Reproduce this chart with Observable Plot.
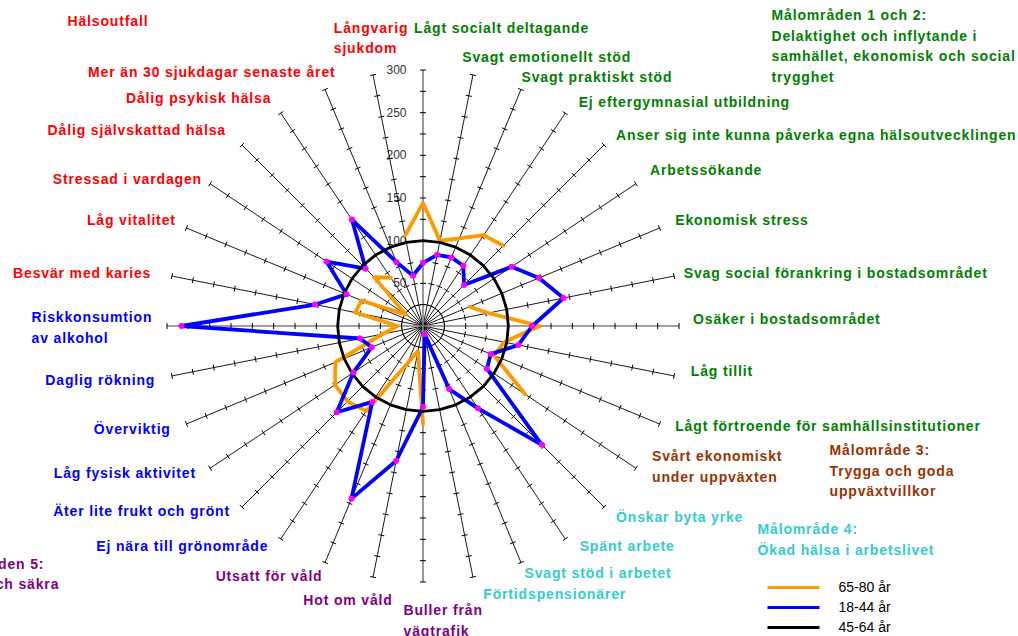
<!DOCTYPE html>
<html>
<head>
<meta charset="utf-8">
<script src="https://cdn.jsdelivr.net/npm/d3@7"></script>
<script src="https://cdn.jsdelivr.net/npm/@observablehq/plot@0.6"></script>
<style>
  html, body { margin: 0; padding: 0; background: #fff; }
  #chart { width: 1018px; height: 636px; overflow: hidden; }
</style>
</head>
<body>
<div id="chart"></div>
<script>
// ---------- DATA ----------
const categories = [
  "Lågt socialt deltagande", "Svagt emotionellt stöd", "Svagt praktiskt stöd",
  "Ej eftergymnasial utbildning", "Anser sig inte kunna påverka egna hälsoutvecklingen",
  "Arbetssökande", "Ekonomisk stress", "Svag social förankring i bostadsområdet",
  "Osäker i bostadsområdet", "Låg tillit", "Lågt förtroende för samhällsinstitutioner",
  "Svårt ekonomiskt\nunder uppväxten", "Önskar byta yrke", "Spänt arbete",
  "Svagt stöd i arbetet", "Förtidspensionärer", "Buller från\nvägtrafik",
  "Hot om våld", "Utsatt för våld", "Ej nära till grönområde",
  "Äter lite frukt och grönt", "Låg fysisk aktivitet", "Överviktig",
  "Daglig rökning", "Riskkonsumtion\nav alkohol", "Besvär med karies",
  "Låg vitalitet", "Stressad i vardagen", "Dålig självskattad hälsa",
  "Dålig psykisk hälsa", "Mer än 30 sjukdagar senaste året", "Långvarig\nsjukdom"
];
const categoryGroup = [
  "mo12","mo12","mo12","mo12","mo12","mo12","mo12","mo12","mo12","mo12","mo12",
  "mo3",
  "mo4","mo4","mo4","mo4",
  "mo5","mo5","mo5",
  "levnad","levnad","levnad","levnad","levnad","levnad",
  "halsa","halsa","halsa","halsa","halsa","halsa","halsa"
];
const seriesNames = ["65-80 år", "18-44 år", "45-64 år"];
const age6580 = [144,102,111,128,133,null,59,78,137,97,90,144,null,null,null,null,
                 115,30,47,120,125,124,111,48,30,81,78,24,81,68,null,108];
const age1844 = [74,85,87,85,68,125,147,168,128,114,86,90,197,116,80,10,
                 95,161,219,107,143,98,65,75,283,129,97,136,95,150,81,60];
const age4564 = [100,100,100,100,100,100,100,100,100,100,100,100,100,100,100,100,
                 100,100,100,100,100,100,100,100,100,100,100,100,100,100,100,100];
const axisMax = 300;
const tickStep = 25;
const axisLabels = [50,100,150,200,250,300];
const groupTitles = [
  {group:"halsa",  text:"Hälsoutfall"},
  {group:"mo12",   text:"Målområden 1 och 2:\nDelaktighet och inflytande i\nsamhället, ekonomisk och social\ntrygghet"},
  {group:"mo3",    text:"Målområde 3:\nTrygga och goda\nuppväxtvillkor"},
  {group:"mo4",    text:"Målområde 4:\nÖkad hälsa i arbetslivet"},
  {group:"mo5",    text:"Målområden 5:\nSunda och säkra"}
];

// ---------- STYLE / LAYOUT ----------
const W = 1018, H = 636;
const CX = 422.5, CY = 325.5, K = 256 / axisMax;   // px per unit
const FONT = "'Liberation Sans', Arial, Helvetica, sans-serif";
const groupColor = {mo12:"#008000", mo3:"#993300", mo4:"#33cccc", mo5:"#800080", levnad:"#0000ff", halsa:"#ff0000"};
const seriesColor = {"65-80 år":"#ff9900", "18-44 år":"#0000ff", "45-64 år":"#000000"};
// title placement (px): left x, vertical centre of block
const titlePos = {halsa:[67,19], mo12:[771,44], mo3:[829,468.5], mo4:[757,537.5], mo5:[-66,572]};
// label nudges in px [dx, dy, anchor]
const labelNudge = {
  0:[-9,-27,"start"], 1:[-14,-3], 2:[-6,2], 3:[4,1], 4:[0,0], 5:[0,-6], 6:[0,-3], 7:[-7,-1],
  8:[-3,-9], 9:[0,-10], 10:[0,-6], 11:[2,-13], 12:[0,-4], 13:[5,-9], 14:[-3,-7], 15:[7,-1],
  16:[-19.5,20,"start"], 17:[23,5], 18:[4,-4], 19:[-3,-9], 20:[0,-10], 21:[0,-6], 22:[0,-3],
  23:[0,-1], 24:[-118.5,0,"start"], 25:[-4,-1], 26:[5,-3], 27:[6,3], 28:[-4,-5], 29:[0,-3],
  30:[17,-3], 31:[-36,-22,"start"]
};

const n = categories.length;
const ang = i => i * 2 * Math.PI / n;
const ux = i => Math.sin(ang(i)), uy = i => Math.cos(ang(i));
const px = x => (x - CX) / K;
const py = y => (CY - y) / K;

function seriesPoints(values) {
  return d3.range(n + 1).map(j => {
    const i = j % n, v = values[i];
    return v == null ? {x: NaN, y: NaN, i} : {x: v * ux(i), y: v * uy(i), i};
  });
}

const spokes = d3.range(n).map(i => ({i, main: i % (n / 4) === 0}));
const tickVals = d3.range(tickStep, axisMax + 0.001, tickStep);
const tickHalf = 3 / K;
const ticks = [];
for (const s of spokes) for (const v of tickVals) {
  const i = s.i, cx = v * ux(i), cy = v * uy(i);
  const pxv = uy(i), pyv = -ux(i); // perpendicular
  ticks.push({x1: cx - tickHalf * pxv, y1: cy - tickHalf * pyv, x2: cx + tickHalf * pxv, y2: cy + tickHalf * pyv});
}

const labelR = axisMax + 17 / K;
const labels = categories.map((text, i) => {
  const nd = labelNudge[i] || [0, 0];
  const anchor = nd[2] || (ux(i) >= 0 ? "start" : "end");
  return {text, anchor, fill: groupColor[categoryGroup[i]],
    x: labelR * ux(i) + nd[0] / K, y: labelR * uy(i) - nd[1] / K};
});

const titles = groupTitles.map(t => ({text: t.text, fill: groupColor[t.group],
  x: px(titlePos[t.group][0]), y: py(titlePos[t.group][1])}));

const legend = seriesNames.map((name, k) => ({name, color: seriesColor[name],
  x1: px(767), x2: px(819), y: py(587 + 20 * k), tx: px(838)}));

const labelOpts = {fontSize: 14, fontWeight: "bold", lineHeight: 1.47, fontFamily: FONT};

const chart = Plot.plot({
  width: W, height: H, margin: 0,
  style: {background: "white", fontFamily: FONT},
  x: {domain: [px(0), px(W)], range: [0, W], axis: null},
  y: {domain: [py(H), py(0)], range: [H, 0], axis: null},
  color: {type: "identity"},
  marks: [
    Plot.text(axisLabels, {x: px(406), y: d => d, text: d => String(d), textAnchor: "end",
      fill: "#333", fontSize: 12, fontFamily: FONT}),
    Plot.link(spokes.filter(d => !d.main), {x1: 0, y1: 0, x2: d => axisMax * ux(d.i), y2: d => axisMax * uy(d.i),
      stroke: "#000", strokeWidth: 0.9}),
    Plot.link(spokes.filter(d => d.main), {x1: 0, y1: 0, x2: d => axisMax * ux(d.i), y2: d => axisMax * uy(d.i),
      stroke: "#808080", strokeWidth: 1.6}),
    Plot.link(ticks, {x1: "x1", y1: "y1", x2: "x2", y2: "y2", stroke: "#000", strokeWidth: 1}),
    Plot.line(seriesPoints(age6580), {x: "x", y: "y", stroke: seriesColor["65-80 år"], strokeWidth: 3.8, curve: "linear"}),
    Plot.line(seriesPoints(age1844), {x: "x", y: "y", stroke: seriesColor["18-44 år"], strokeWidth: 3.8, curve: "linear"}),
    Plot.line(seriesPoints(age4564), {x: "x", y: "y", stroke: seriesColor["45-64 år"], strokeWidth: 2.8, curve: "linear"}),
    Plot.dot(seriesPoints(age1844).slice(0, n), {x: "x", y: "y", r: 3, fill: "#ff00ff", stroke: "none"}),
    Plot.text(labels.filter(d => d.anchor === "start"), {x: "x", y: "y", text: "text", fill: "fill", textAnchor: "start", ...labelOpts}),
    Plot.text(labels.filter(d => d.anchor === "end"), {x: "x", y: "y", text: "text", fill: "fill", textAnchor: "end", ...labelOpts}),
    Plot.text(titles, {x: "x", y: "y", text: "text", fill: "fill", textAnchor: "start", ...labelOpts}),
    Plot.link(legend, {x1: "x1", x2: "x2", y1: "y", y2: "y", stroke: "color", strokeWidth: 3}),
    Plot.text(legend, {x: "tx", y: "y", text: "name", textAnchor: "start", fill: "#000", fontSize: 14, fontFamily: FONT})
  ]
});
d3.select(chart).selectAll('g[font-weight="bold"]').attr("letter-spacing", "0.85px");
document.getElementById("chart").appendChild(chart);
</script>
</body>
</html>
